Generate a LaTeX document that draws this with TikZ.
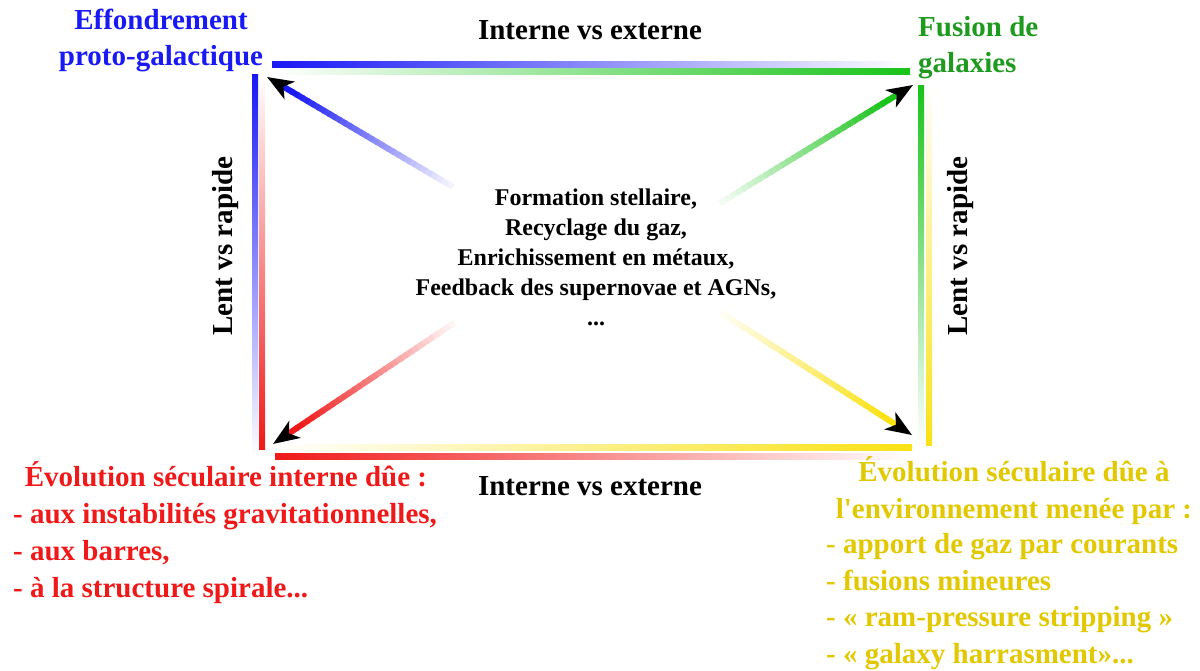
\documentclass[tikz,border=0pt]{standalone}
\usepackage{fontspec}
\setmainfont{Liberation Serif}
\usepackage{xcolor}
\usetikzlibrary{arrows.meta}
\usetikzlibrary{calc}
\definecolor{bleu}{RGB}{25,25,245}
\definecolor{vertbarre}{RGB}{25,195,25}
\definecolor{verttexte}{RGB}{30,155,30}
\definecolor{rouge}{RGB}{240,25,25}
\definecolor{jaune}{RGB}{250,225,20}
\definecolor{jaunetexte}{RGB}{225,200,0}

\begin{document}
\begin{tikzpicture}[x=1pt,y=-1pt]
\tikzset{>={Stealth[length=26pt,width=20pt,inset=7pt,color=black]}}
\tikzstyle{etiquette}=[inner sep=0pt,font=\bfseries\fontsize{29}{36.5}\selectfont]
\tikzstyle{liste}=[inner sep=0pt,font=\bfseries\fontsize{29}{36.6}\selectfont]
\tikzstyle{texteCentre}=[inner sep=0pt,align=center,font=\bfseries\fontsize{24}{30}\selectfont]
\useasboundingbox (0,0) rectangle (1200,671);
\shade[left color=bleu,right color=white] (272,62) rectangle (910,68);
\shade[left color=white,right color=vertbarre] (272,69) rectangle (910,75);
\shade[top color=bleu,bottom color=white] (252,75) rectangle (258,457);
\shade[top color=white,bottom color=rouge] (259,75) rectangle (265,449);
\shade[left color=white,right color=jaune] (275,444) rectangle (912,450);
\shade[left color=rouge,right color=white] (275,453) rectangle (912,459);
\shade[top color=vertbarre,bottom color=white] (918,86) rectangle (924,445);
\shade[top color=white,bottom color=jaune] (926,86) rectangle (932,445);
\node[etiquette,bleu,align=center,anchor=base](effondrement) at (161,66){Effondrement\\proto-galactique};
\node[etiquette,verttexte,align=left,anchor=base west](fusion) at (918,73){Fusion de\\galaxies};
\node[etiquette,anchor=base](interneHaut) at (590,40){Interne vs externe};
\node[etiquette,anchor=base](interneBas) at (590,495){Interne vs externe};
\node[etiquette,rotate=90,anchor=base](lentGauche) at (232,246){Lent vs rapide};
\node[etiquette,rotate=90,anchor=base](lentDroite) at (967,246){Lent vs rapide};
\node[texteCentre,anchor=base](processus) at (596,325){Formation stellaire,\\Recyclage du gaz,\\Enrichissement en métaux,\\Feedback des supernovae et AGNs,\\...};
\node[liste,rouge,anchor=base](seculaireInterne) at (226,486.7){Évolution séculaire interne dûe :};
\node[liste,rouge,align=left,anchor=base west](listeInterne) at (13,597){- aux instabilités gravitationnelles,\\- aux barres,\\- à la structure spirale...};
\node[liste,jaunetexte,align=center,anchor=base](seculaireEnv) at (1014,518.3){Évolution séculaire dûe à\\l\textquotesingle environnement menée par :};
\node[liste,jaunetexte,align=left,anchor=base west](listeEnv) at (826,663.5){- apport de gaz par courants\\- fusions mineures\\- « ram-pressure stripping »\\- « galaxy harrasment»...};
\coordinate (depHG) at (453,187);
\coordinate (coinHG) at (267,77);
\coordinate (depHD) at (720,203);
\coordinate (coinHD) at (913,85);
\coordinate (depBG) at (454,323);
\coordinate (coinBG) at (273,444);
\coordinate (depBD) at (720,312);
\coordinate (coinBD) at (912,435);
\foreach \dep/\coin/\col in {depHG/coinHG/bleu,depHD/coinHD/vertbarre,depBG/coinBG/rouge,depBD/coinBD/jaune}{
  \coordinate (fin) at ($(\coin)!30pt!(\dep)$);
  \foreach \i [evaluate=\i as \p using int(5+\i*95/29)] in {0,...,29}
    \draw[line width=6pt,draw=\col!\p!white] ($(\dep)!{\i/30}!(fin)$) -- ($(\dep)!{(\i+1.3)/30}!(fin)$);
  \draw[->,line width=6pt,draw=\col] (fin) -- (\coin);
}
\end{tikzpicture}
\end{document}
